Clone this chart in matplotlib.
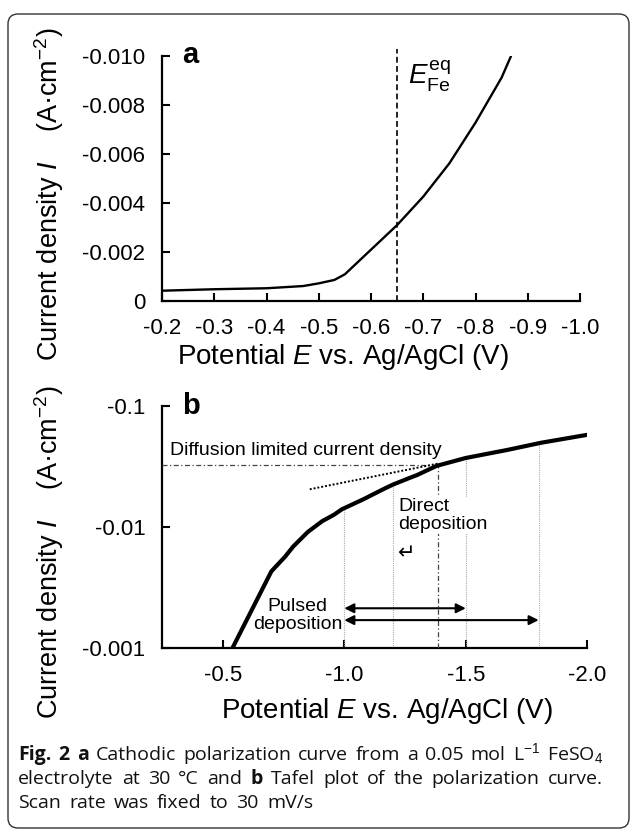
import numpy as np
import matplotlib
matplotlib.use("Agg")
import matplotlib.pyplot as plt
from matplotlib.patches import FancyBboxPatch
from matplotlib.transforms import IdentityTransform

plt.rcParams['font.family'] = ['Liberation Sans', 'DejaVu Sans']
plt.rcParams['axes.unicode_minus'] = False
plt.rcParams['mathtext.fontset'] = 'custom'
plt.rcParams['mathtext.rm'] = 'Liberation Sans'
plt.rcParams['mathtext.it'] = 'Liberation Sans:italic'
plt.rcParams['mathtext.bf'] = 'Liberation Sans:bold'

# ---------------- data ----------------
# panel a: cathodic polarization curve (linear)
pot_a = [-0.20, -0.30, -0.40, -0.47, -0.50, -0.53, -0.55, -0.65, -0.70, -0.75, -0.80, -0.85, -0.868]
cur_a = [-0.00042, -0.00048, -0.00052, -0.00061, -0.00072, -0.00086, -0.00109,
         -0.0031, -0.00426, -0.00562, -0.00728, -0.00912, -0.0100]
E_eq_fe = -0.65
xticks_a = [-0.2, -0.3, -0.4, -0.5, -0.6, -0.7, -0.8, -0.9, -1.0]
yticks_a = [0, -0.002, -0.004, -0.006, -0.008, -0.010]

# panel b: Tafel plot (log scale)
pot_b = [-0.54, -0.70, -0.757, -0.79, -0.85, -0.91, -0.957, -0.99, -1.08, -1.16, -1.20,
         -1.27, -1.30, -1.38, -1.50, -1.67, -1.81, -2.00]
cur_b = [-0.0010, -0.0043, -0.0057, -0.0069, -0.0091, -0.0112, -0.0126, -0.0140, -0.0170,
         -0.0205, -0.0224, -0.0255, -0.0269, -0.0320, -0.0372, -0.0433, -0.0497, -0.0578]
tangent_pot = [-0.858, -1.391]
tangent_cur = [-0.0205, -0.0336]
i_lim = -0.0325
cross_pot = -1.384
guide_pot = [-1.0, -1.2, -1.5, -1.8]
guide_cur = [-0.0141, -0.0224, -0.0372, -0.0492]
pulse_ranges = [(-1.0, -1.5), (-1.0, -1.8)]
pulse_levels = [-0.00213, -0.0017]
xticks_b = [-0.5, -1.0, -1.5, -2.0]
yticks_b = [-0.001, -0.01, -0.1]

W, H = 630, 831
fig = plt.figure(figsize=(W / 100, H / 100), dpi=100)

def frac(px_l, px_t, px_r, px_b):
    return [px_l / W, 1 - px_b / H, (px_r - px_l) / W, (px_b - px_t) / H]

# frame
frame = FancyBboxPatch((8, 3), 621, 814, boxstyle="round,pad=0,rounding_size=10",
                       transform=IdentityTransform(), fill=False, edgecolor='#333333', lw=1.0)
fig.patches.append(frame)

tick_kw = dict(direction='in', length=6, width=1.5, labelsize=16, pad=12, color='black')

# ---------------- panel a ----------------
ax1 = fig.add_axes(frac(162, 56, 580, 301))
ax1.plot(pot_a, cur_a, color='black', lw=1.7, solid_capstyle='round', solid_joinstyle='round')
ax1.plot([E_eq_fe, E_eq_fe], [0, -0.0103], color='black', lw=1.2, ls=(0, (3.5, 2)), clip_on=False)
ax1.set_xlim(-0.2, -1.0)
ax1.set_ylim(0, -0.010)
ax1.set_xticks(xticks_a)
ax1.set_xticklabels([f"{v:.1f}" for v in xticks_a])
ax1.set_yticks(yticks_a)
ax1.set_yticklabels(["0" if v == 0 else f"{v:.3f}" for v in yticks_a])
ax1.text(-0.671, -0.00882, r"$E^{\rm eq}_{\rm Fe}$", fontsize=20, ha='left', va='baseline')

# ---------------- panel b ----------------
ax2 = fig.add_axes(frac(162, 406, 587.3, 648))
ax2.set_yscale('log')
ax2.set_xlim(-0.25, -2.0)
ax2.set_ylim(0.001, 0.1)
ax2.plot(pot_b, np.abs(cur_b), color='black', lw=3.0, solid_capstyle='round',
         solid_joinstyle='round', zorder=5)
ax2.plot(tangent_pot, np.abs(tangent_cur), color='black', lw=1.4, ls=(0, (1, 1)), zorder=4)
ax2.plot([-0.25, cross_pot], [abs(i_lim), abs(i_lim)], color='#444444', lw=0.9,
         ls=(0, (4, 2, 1, 2)), zorder=3)
ax2.plot([cross_pot, cross_pot], [0.001, abs(i_lim)], color='#444444', lw=0.9,
         ls=(0, (4, 2, 1, 2)), zorder=3)
for gp, gc in zip(guide_pot, guide_cur):
    ax2.plot([gp, gp], [0.001, abs(gc)], color='#aaaaaa', lw=0.8, ls=(0, (1, 1)), zorder=2)
for (p0, p1), lev in zip(pulse_ranges, pulse_levels):
    ax2.annotate('', xy=(p1, abs(lev)), xytext=(p0, abs(lev)),
                 arrowprops=dict(arrowstyle='<|-|>', color='black', lw=1.5,
                                 mutation_scale=14, shrinkA=0, shrinkB=0), zorder=6)
ax2.set_xticks(xticks_b)
ax2.set_xticklabels([f"{v:.1f}" for v in xticks_b])
ax2.yaxis.set_major_locator(matplotlib.ticker.FixedLocator([abs(v) for v in yticks_b]))
ax2.yaxis.set_major_formatter(matplotlib.ticker.FixedFormatter([str(v) for v in yticks_b]))
ax2.yaxis.set_minor_locator(matplotlib.ticker.NullLocator())

ax2.text(-0.283, 0.0394, "Diffusion limited current density", fontsize=14, ha='left',
         va='baseline', zorder=7)
ax2.text(-1.221, 0.0174, "Direct\ndeposition", fontsize=14, ha='left', va='top',
         linespacing=1.05, zorder=7,
         bbox=dict(facecolor='white', edgecolor='none', pad=1))
ax2.text(-1.258, 0.00604, "\u21b5", fontsize=15, ha='center', va='center',
         fontfamily=['DejaVu Sans'], zorder=7)
ax2.text(-0.808, 0.00259, "Pulsed\ndeposition", fontsize=14, ha='center', va='top',
         linespacing=1.05, zorder=7)

for ax in (ax1, ax2):
    for s in ('top', 'right'):
        ax.spines[s].set_visible(False)
    for s in ('left', 'bottom'):
        ax.spines[s].set_linewidth(1.6)
    ax.tick_params(axis='both', which='major', **tick_kw)

# panel letters
fig.text(190 / W, 1 - 63 / H, "a", fontsize=21, fontweight='bold', ha='center', va='baseline')
fig.text(191 / W, 1 - 414 / H, "b", fontsize=21, fontweight='bold', ha='center', va='baseline')

# axis labels
xlab = r"Potential $E$ vs. Ag/AgCl (V)"
fig.text(343 / W, 1 - 357 / H, xlab, fontsize=20, ha='center', va='center')
fig.text(387 / W, 1 - 711 / H, xlab, fontsize=20, ha='center', va='center')
ylab = r"Current density $I$    (A·cm$^{-2}$)"
fig.text(49 / W, 1 - 194 / H, ylab, fontsize=19.5, rotation=90, ha='center', va='center')
fig.text(49 / W, 1 - 552 / H, ylab, fontsize=19.5, rotation=90, ha='center', va='center')

# caption (justified)
cap_font = ['Open Sans', 'DejaVu Sans']
cap_lines = [
    ([("Fig.", 'bold'), ("2", 'bold'), ("a", 'bold'), ("Cathodic", 'normal'),
      ("polarization", 'normal'), ("curve", 'normal'), ("from", 'normal'), ("a", 'normal'),
      ("0.05", 'normal'), ("mol", 'normal'), (r"L$^{-1}$", 'normal'), (r"FeSO$_4$", 'normal')],
     760, 18, 603),
    ([("electrolyte", 'normal'), ("at", 'normal'), ("30", 'normal'), ("°C", 'normal'),
      ("and", 'normal'), ("b", 'bold'), ("Tafel", 'normal'), ("plot", 'normal'), ("of", 'normal'),
      ("the", 'normal'), ("polarization", 'normal'), ("curve.", 'normal')],
     784, 18, 603),
    ([("Scan", 'normal'), ("rate", 'normal'), ("was", 'normal'), ("fixed", 'normal'),
      ("to", 'normal'), ("30", 'normal'), ("mV/s", 'normal')],
     808, 18, 313),
]
renderer = fig.canvas.get_renderer()
for words, yb, x0, x1 in cap_lines:
    texts = [fig.text(0, 1 - yb / H, w, fontsize=14, fontweight=wt, fontfamily=cap_font,
                      ha='left', va='baseline', color='#111111') for w, wt in words]
    widths = [t.get_window_extent(renderer).width for t in texts]
    gap = ((x1 - x0) - sum(widths)) / (len(texts) - 1)
    x = x0
    for t, wd in zip(texts, widths):
        t.set_x(x / W)
        x += wd + gap

fig.savefig("out.png", dpi=100)
